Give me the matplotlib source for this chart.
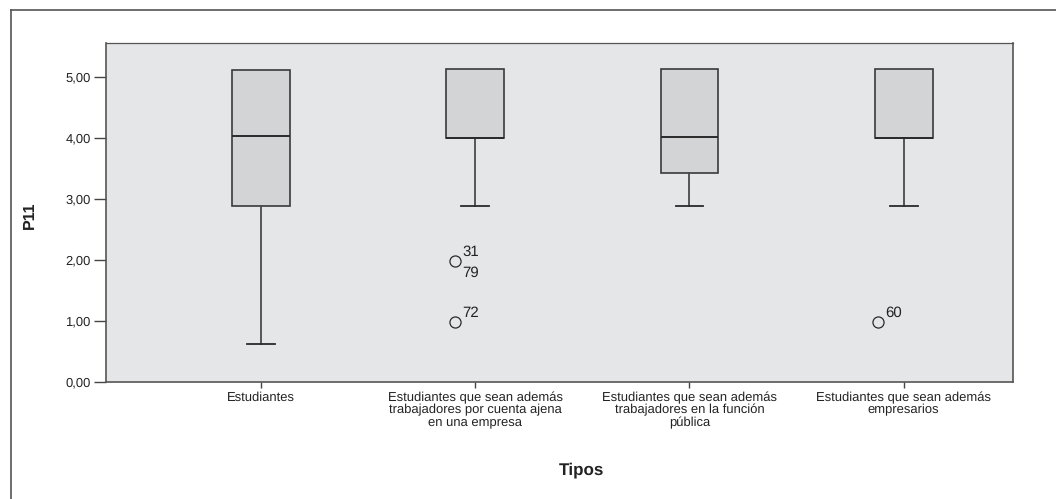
import matplotlib
matplotlib.use("Agg")
import matplotlib.pyplot as plt
from matplotlib.lines import Line2D

plt.rcParams["font.family"] = ["Liberation Sans", "DejaVu Sans"]
plt.rcParams["text.hinting"] = "no_hinting"
plt.rcParams["text.hinting_factor"] = 1

# Data (P11 by Tipos)
categories = [
    "Estudiantes",
    "Estudiantes que sean además\ntrabajadores por cuenta ajena\nen una empresa",
    "Estudiantes que sean además\ntrabajadores en la función\npública",
    "Estudiantes que sean además\nempresarios",
]
whisker_low = [0.62, 2.88, 2.88, 2.88]
q1 = [2.88, 4.00, 3.43, 4.00]
median = [4.03, 4.00, 4.01, 4.00]
q3 = [5.11, 5.13, 5.13, 5.13]
whisker_high = [5.11, 5.13, 5.13, 5.13]
outliers = [[], [1.98, 0.98], [], [0.98]]
outlier_ids = [[], ["31", "72"], [], ["60"]]
# second case sharing the same value as the first outlier of a group
stacked_ids = [[], ["79", ""], [], [""]]
# SPSS draws the outlier circles a little left of the box centre
outlier_shift = [0.0, -0.093, 0.0, -0.121]

yticks = [0, 1, 2, 3, 4, 5]

W, H = 1056, 499
fig = plt.figure(figsize=(W / 100, H / 100), dpi=100)
ax = fig.add_axes([106 / W, (H - 382) / H, 907 / W, 339 / H])
ax.set_facecolor("#e5e6e8")

positions = list(range(1, len(categories) + 1))
stats = []
for i in range(len(categories)):
    stats.append({
        "whislo": whisker_low[i], "q1": q1[i], "med": median[i],
        "q3": q3[i], "whishi": whisker_high[i], "fliers": [],
    })

parts = ax.bxp(
    stats, positions=positions, widths=0.27, patch_artist=True,
    showcaps=True, showfliers=False,
    boxprops=dict(facecolor="#d3d4d6", edgecolor="#3a3a3a", linewidth=1.2),
    medianprops=dict(color="#2a2a2a", linewidth=1.4),
    whiskerprops=dict(color="#4a4a4a", linewidth=1.3),
    capprops=dict(color="#2a2a2a", linewidth=1.3),
    capwidths=0.13,
)
# no visible cap where the whisker has zero length
for i in range(len(categories)):
    if whisker_high[i] <= q3[i]:
        parts["caps"][2 * i + 1].set_visible(False)
    if whisker_low[i] >= q1[i]:
        parts["caps"][2 * i].set_visible(False)

# outliers and case labels
for pos, shift, vals, ids, ids2 in zip(positions, outlier_shift, outliers,
                                       outlier_ids, stacked_ids):
    for v, label, label2 in zip(vals, ids, ids2):
        x = pos + shift
        ax.plot(x, v, marker="o", markersize=8, markerfacecolor="none",
                markeredgecolor="#2a2a2a", markeredgewidth=0.9)
        ax.annotate(label, (x, v), xytext=(5, 1.5), textcoords="offset points",
                    fontsize=10.5, color="#222222", ha="left", va="bottom")
        if label2:
            ax.annotate(label2, (x, v), xytext=(5, -3.5),
                        textcoords="offset points", fontsize=10.5,
                        color="#222222", ha="left", va="top")

ax.set_xlim(0.277, 4.51)
ax.set_ylim(0, 5.552)
ax.set_xticks(positions)
ax.set_xticklabels(categories, fontsize=9, color="#222222", linespacing=1.0)
ax.set_yticks(yticks)
ax.set_yticklabels([f"{t:.2f}".replace(".", ",") for t in yticks],
                   fontsize=9, color="#222222")
ax.tick_params(axis="y", length=9, width=1, color="#444444", pad=2)
ax.tick_params(axis="x", length=4, width=1, color="#444444", pad=3)

for side, sp in ax.spines.items():
    sp.set_color("#555555")
    sp.set_linewidth(1.2 if side in ("left", "bottom", "right") else 0.9)

fig.text(30 / W, 1 - 215 / H, "P11", rotation=90, fontsize=11.5,
         fontweight="bold", ha="center", va="center", color="#222222")
fig.text(581 / W, 1 - 470 / H, "Tipos", fontsize=12.5, fontweight="bold",
         ha="center", va="center", color="#222222")

# outer chart frame (open at right and bottom as cropped)
frame_kw = dict(color="#555555", linewidth=1.2, transform=fig.transFigure)
fig.add_artist(Line2D([11 / W, 11 / W], [0, 1 - 10 / H], **frame_kw))
fig.add_artist(Line2D([11 / W, 1], [1 - 10 / H, 1 - 10 / H], **frame_kw))

fig.savefig("out.png", dpi=100)
